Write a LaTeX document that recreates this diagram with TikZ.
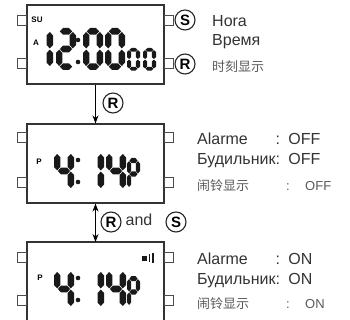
\documentclass[tikz,border=0pt]{standalone}
\usepackage{fontspec}
\setmainfont{Liberation Sans}
\newfontfamily\zhfont{Noto Sans CJK SC}
\usetikzlibrary{arrows.meta}

% LCD segments in a 1 x 2 cell (y runs downwards)
\newcommand{\lcdsega}{\fill[lcd] (0.19,0.16) -- (0.35,0) -- (0.65,0) -- (0.81,0.16) -- (0.65,0.32) -- (0.35,0.32) -- cycle;}
\newcommand{\lcdsegb}{\fill[lcd] (0.84,0.19) -- (1,0.35) -- (1,0.81) -- (0.84,0.97) -- (0.68,0.81) -- (0.68,0.35) -- cycle;}
\newcommand{\lcdsegc}{\fill[lcd] (0.84,1.03) -- (1,1.19) -- (1,1.65) -- (0.84,1.81) -- (0.68,1.65) -- (0.68,1.19) -- cycle;}
\newcommand{\lcdsegd}{\fill[lcd] (0.19,1.84) -- (0.35,1.68) -- (0.65,1.68) -- (0.81,1.84) -- (0.65,2) -- (0.35,2) -- cycle;}
\newcommand{\lcdsege}{\fill[lcd] (0.16,1.03) -- (0.32,1.19) -- (0.32,1.65) -- (0.16,1.81) -- (0,1.65) -- (0,1.19) -- cycle;}
\newcommand{\lcdsegf}{\fill[lcd] (0.16,0.19) -- (0.32,0.35) -- (0.32,0.81) -- (0.16,0.97) -- (0,0.81) -- (0,0.35) -- cycle;}
\newcommand{\lcdsegg}{\fill[lcd] (0.19,1) -- (0.35,0.84) -- (0.65,0.84) -- (0.81,1) -- (0.65,1.16) -- (0.35,1.16) -- cycle;}
% \lcddigit{x}{y}{width}{half height}{segments}
\newcommand{\lcddigit}[5]{\begin{scope}[shift={(#1,#2)},xscale=#3,yscale=#4]
	\foreach \s in {#5} {\csname lcdseg\s\endcsname}
	\end{scope}}
% side buttons of the watch at height #1
\newcommand{\sidebuttons}[1]{\draw[btn] (17,#1-5) rectangle (26.5,#1+5); \draw[btn] (164.5,#1-5) rectangle (173,#1+5);}

\tikzset{
	lcd/.style={fill=black!90},
	watch/.style={draw=black!80,line width=1.1pt,minimum width=137pt,minimum height=79pt,inner sep=0},
	btn/.style={draw=black!70,line width=0.6pt},
	keyname/.style={circle,draw=black!85,line width=1.1pt,inner sep=0,minimum size=20pt,font=\bfseries\fontsize{15}{15}\selectfont},
	indic/.style={font=\bfseries\fontsize{8}{8}\selectfont,inner sep=0},
	lbl/.style={anchor=base west,inner sep=0,text=black!80,font=\fontsize{16}{19}\selectfont},
	zh/.style={anchor=base west,inner sep=0,text=black!65,font=\zhfont\fontsize{13}{15}\selectfont},
	zhval/.style={anchor=base west,inner sep=0,text=black!65,font=\fontsize{13}{15}\selectfont},
}

\begin{document}
\begin{tikzpicture}[x=1pt,y=-1pt]
	\useasboundingbox (0,0) rectangle (350,320);

	% time display
	\node[watch] (clock) at (95.5,44.5) {};
	\sidebuttons{20}
	\sidebuttons{63.5}
	\node[indic] (su) at (37,20) {SU};
	\node[indic] (amark) at (36,43) {A};
	\lcddigit{33}{28}{20}{21}{b,c}
	\lcddigit{56}{28}{20}{21}{a,b,g,e,d}
	\fill[lcd] (78,40) circle(2.3) (78,62) circle(2.3);
	\lcddigit{83}{28}{20}{21}{a,b,c,d,e,f}
	\lcddigit{105}{28}{20}{21}{a,b,c,d,e,f}
	\lcddigit{127}{48}{13}{11.3}{a,b,c,d,e,f}
	\lcddigit{143}{48}{13}{11.3}{a,b,c,d,e,f}
	\node[keyname] (keys) at (185,20) {S};
	\node[keyname] (keyr) at (185,64) {R};
	\node[lbl] (hora) at (212,27) {Hora};
	\node[lbl] (vremya) at (212,46) {Время};
	\node[zh] (shike) at (212,72) {时刻显示};

	% alarm off
	\node[watch] (alarmoff) at (95.5,163.5) {};
	\sidebuttons{137}
	\sidebuttons{182}
	\node[indic] (poff) at (39,162) {P};
	\lcddigit{54}{150}{20}{21}{f,g,b,c}
	\fill[lcd] (78,160) circle(2.3) (78,182) circle(2.3);
	\lcddigit{84}{150}{20}{21}{b,c}
	\lcddigit{106}{150}{20}{21}{f,g,b,c}
	\lcddigit{127}{158}{13}{16}{a,b,f,g,e}
	\node[lbl] (alarmeoff) at (197,145) {Alarme};
	\node[lbl] (budoff) at (197,165) {Будильник:};
	\node[lbl,anchor=base east] (coloff) at (budoff.base east |- alarmeoff.base) {:};
	\node[lbl] (offb) at ([xshift=8pt]budoff.base east) {OFF};
	\node[lbl] (offa) at (offb.base west |- alarmeoff.base) {OFF};
	\node[zh] (naoff) at (197,190) {闹铃显示};
	\node[zhval] (zcoloff) at (286,190) {:};
	\node[zhval] (offc) at (305,190) {OFF};

	% alarm on (lower edge runs off the page)
	\coordinate (alarmon) at (95.5,242);
	\draw[draw=black!80,line width=1.1pt] (27,320) |- (164,242) -- (164,320);
	\sidebuttons{257}
	\sidebuttons{300}
	\node[indic] (pon) at (40,278) {P};
	\fill[lcd] (142,255.5) rectangle (147,260.5);
	\fill[lcd] (148.5,254) rectangle (150.3,262);
	\fill[lcd] (151.8,253) rectangle (153.6,263);
	\lcddigit{54}{268}{20}{21}{f,g,b,c}
	\fill[lcd] (78,278) circle(2.3) (78,300) circle(2.3);
	\lcddigit{84}{268}{20}{21}{b,c}
	\lcddigit{106}{268}{20}{21}{f,g,b,c}
	\lcddigit{127}{276}{13}{16}{a,b,f,g,e}
	\node[lbl] (alarmeon) at (197,264) {Alarme};
	\node[lbl] (budon) at (197,284) {Будильник:};
	\node[lbl,anchor=base east] (colon) at (budon.base east |- alarmeon.base) {:};
	\node[lbl] (onb) at ([xshift=8pt]budon.base east) {ON};
	\node[lbl] (ona) at (onb.base west |- alarmeon.base) {ON};
	\node[zh] (naon) at (197,308) {闹铃显示};
	\node[zhval] (zcolon) at (286,308) {:};
	\node[zhval] (onc) at (305,308) {ON};

	% key presses
	\draw[line width=1.4pt,-{Stealth[length=8pt,width=6pt]}] (clock.south) -- (alarmoff.north);
	\node[keyname] (pressr) at (113,103) {R};
	\draw[line width=1.4pt,{Stealth[length=8pt,width=6pt]}-{Stealth[length=8pt,width=6pt]}] (alarmoff.south) -- (alarmon);
	\node[keyname] (toggler) at (111,222) {R};
	\node[lbl,anchor=center] (andword) at (139,220) {and};
	\node[keyname] (toggles) at (176,222) {S};
\end{tikzpicture}
\end{document}
